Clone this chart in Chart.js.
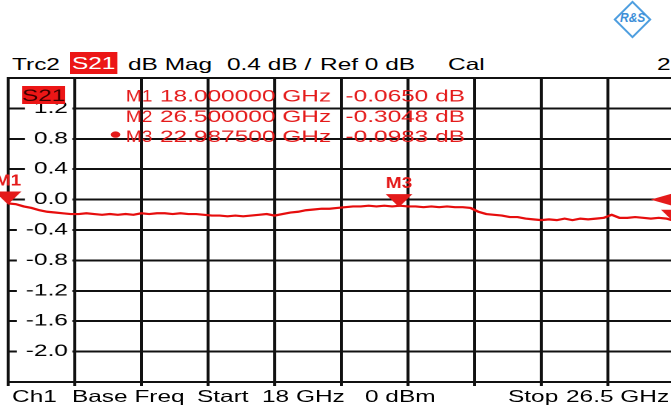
<!DOCTYPE html>
<html lang="en">
<head>
<meta charset="UTF-8">
<title>Trc2 S21 dB Mag</title>
<script src="https://cdn.jsdelivr.net/npm/chart.js"></script>
<style>
  html, body { margin: 0; padding: 0; background: #fff; }
  body {
    width: 671px;
    height: 408px;
    overflow: hidden;
    position: relative;
    font-family: "Liberation Sans", Arial, sans-serif;
  }
  #trace { position: absolute; left: 0; top: 0; }
  .lbl {
    position: absolute;
    font-size: 16.5px;
    line-height: 20px;
    white-space: pre;
    color: #000;
    transform: scaleX(1.48);
    transform-origin: 0 0;
  }
  .tag {
    background: #ec1616;
    color: #fff;
    text-align: center;
    width: 32px;
    height: 22px;
    line-height: 22px;
  }
  .diamond {
    position: absolute;
    left: 619px;
    top: 6px;
    width: 23px;
    height: 23px;
    border: 2px solid #4f9fe0;
    transform: rotate(45deg);
  }
  .rs {
    position: absolute;
    left: 620px;
    top: 11px;
    width: 25px;
    text-align: center;
    font: italic bold 12px "Liberation Sans", Arial, sans-serif;
    color: #3d8fd8;
  }
</style>
</head>
<body>
  <div class="diamond"></div>
  <div class="rs">R&amp;S</div>

  <!-- header line -->
  <span class="lbl" style="left:12px; top:54px">Trc2</span>
  <span class="lbl tag" style="left:70px; top:52px">S21</span>
  <span class="lbl" style="left:128px; top:54px">dB Mag</span>
  <span class="lbl" style="left:227px; top:54px">0.4 dB /</span>
  <span class="lbl" style="left:320px; top:54px">Ref 0 dB</span>
  <span class="lbl" style="left:448px; top:54px">Cal</span>
  <span class="lbl" style="left:657px; top:54px">2</span>

  <canvas id="trace" width="470" height="408"></canvas>

  <!-- footer line -->
  <span class="lbl" style="left:12px; top:386px">Ch1</span>
  <span class="lbl" style="left:72px; top:386px">Base Freq</span>
  <span class="lbl" style="left:197px; top:386px">Start</span>
  <span class="lbl" style="left:262px; top:386px">18 GHz</span>
  <span class="lbl" style="left:365px; top:386px">0 dBm</span>
  <span class="lbl" style="left:508px; top:386px">Stop</span>
  <span class="lbl" style="left:566px; top:386px">26.5 GHz</span>

<script>
  // sweep
  const startGHz = 18;
  const stopGHz = 26.5;

  // S21 trace
  const freqGHz = [
    18.0, 18.1, 18.2, 18.3, 18.4, 18.5, 18.6, 18.7, 18.8, 18.9,
    19.0, 19.1, 19.2, 19.3, 19.4, 19.5, 19.6, 19.7, 19.8, 19.9,
    20.0, 20.1, 20.2, 20.3, 20.4, 20.5, 20.6, 20.7, 20.8, 20.9,
    21.0, 21.1, 21.2, 21.3, 21.4, 21.5, 21.6, 21.7, 21.8, 21.9,
    22.0, 22.1, 22.2, 22.3, 22.4, 22.5, 22.6, 22.7, 22.8, 22.9,
    23.0, 23.1, 23.2, 23.3, 23.4, 23.5, 23.6, 23.7, 23.8, 23.9,
    24.0, 24.1, 24.2, 24.3, 24.4, 24.5, 24.6, 24.7, 24.8, 24.9,
    25.0, 25.1, 25.2, 25.3, 25.4, 25.5, 25.6, 25.7, 25.8, 25.9,
    26.0, 26.1, 26.2, 26.3, 26.4, 26.5
  ];
  const s21dB = [
    -0.05, -0.06, -0.09, -0.11, -0.14, -0.16, -0.17, -0.18, -0.19, -0.19,
    -0.18, -0.19, -0.20, -0.19, -0.20, -0.19, -0.20, -0.18, -0.19, -0.18,
    -0.18, -0.19, -0.18, -0.19, -0.19, -0.20, -0.21, -0.21, -0.22, -0.21,
    -0.22, -0.21, -0.20, -0.19, -0.21, -0.19, -0.17, -0.16, -0.14, -0.13,
    -0.12, -0.12, -0.11, -0.10, -0.09, -0.09, -0.08, -0.09, -0.08, -0.09,
    -0.08, -0.09, -0.09, -0.10, -0.09, -0.10, -0.09, -0.10, -0.10, -0.11,
    -0.16, -0.19, -0.20, -0.21, -0.23, -0.23, -0.25, -0.26, -0.27, -0.26,
    -0.27, -0.25, -0.27, -0.25, -0.26, -0.25, -0.24, -0.20, -0.24, -0.24,
    -0.23, -0.24, -0.25, -0.24, -0.25, -0.28
  ];

  // markers
  const markerNames = ['M1', 'M2', 'M3'];
  const markerFreqs = [18.0, 26.5, 22.9875];
  const markerValues = [-0.0650, -0.3048, -0.0983];
  const activeMarker = 2;

  // y scale: 0.4 dB/div, ref 0 dB at 6th division from the bottom
  const refLevel = 0;
  const dbPerDiv = 0.4;
  const divisions = 10;
  const refPosition = 6;
  const tickLabels = ['1.2', '0.8', '0.4', '0.0', '-0.4', '-0.8', '-1.2', '-1.6', '-2.0'];

  const RED = '#e41a1a';
  const GRID = '#111';
  const FONT = '"Liberation Sans", Arial, sans-serif';
  const STRETCH = 1.48; // the screen is wider than it is tall

  function tickText(v) {
    const t = (Math.round(v * 10) / 10).toFixed(1);
    return tickLabels.includes(t) ? t : '';
  }

  // narrow text (marker names are condensed on the analyser screen)
  function narrowText(ctx, text, x, y, sx) {
    ctx.save();
    ctx.translate(x, y);
    ctx.scale(sx, 1);
    ctx.fillText(text, 0, 0);
    ctx.restore();
  }

  const markerPlugin = {
    id: 'vnaMarkers',
    afterDatasetsDraw(chart) {
      const { ctx, chartArea } = chart;
      const x = chart.scales.x;
      const y = chart.scales.y;
      ctx.save();
      ctx.fillStyle = RED;

      // marker triangles + names
      markerNames.forEach((name, i) => {
        const px = x.getPixelForValue(markerFreqs[i]);
        const py = y.getPixelForValue(markerValues[i]);
        ctx.beginPath();
        ctx.moveTo(px - 9, py - 13);
        ctx.lineTo(px + 9, py - 13);
        ctx.lineTo(px, py);
        ctx.closePath();
        ctx.fill();
        if (px < chartArea.right - 1) {
          ctx.font = 'bold 16px ' + FONT;
          ctx.textAlign = 'center';
          ctx.textBaseline = 'alphabetic';
          narrowText(ctx, name, px, py - 19, 0.8);
        }
      });

      // reference level arrow on the right edge
      const ry = y.getPixelForValue(refLevel);
      ctx.beginPath();
      ctx.moveTo(chartArea.right - 16, ry);
      ctx.lineTo(chartArea.right + 3, ry - 8);
      ctx.lineTo(chartArea.right + 3, ry + 8);
      ctx.closePath();
      ctx.fill();
      ctx.restore();
    },
    afterDraw(chart) {
      const { ctx } = chart;
      ctx.save();

      // trace label box
      ctx.fillStyle = '#ec1616';
      ctx.fillRect(15, 86, 29, 18);
      ctx.fillStyle = '#3a0000';
      ctx.font = '16.5px ' + FONT;
      ctx.textAlign = 'center';
      ctx.textBaseline = 'alphabetic';
      ctx.fillText('S21', 29.5, 101);

      // marker readout
      ctx.fillStyle = RED;
      markerNames.forEach((name, i) => {
        const by = 101.5 + i * 20.3;
        ctx.textAlign = 'left';
        narrowText(ctx, name, 85, by, 0.78);
        ctx.fillText(markerFreqs[i].toFixed(6) + ' GHz', 108, by);
        ctx.textAlign = 'right';
        ctx.fillText(markerValues[i].toFixed(4) + ' dB', 314, by);
        if (i === activeMarker) {
          ctx.beginPath();
          ctx.arc(78, by - 7.5, 3.2, 0, Math.PI * 2);
          ctx.fill();
        }
      });
      ctx.restore();
    }
  };

  const canvas = document.getElementById('trace');
  canvas.style.width = (canvas.width * STRETCH) + 'px';
  canvas.style.height = canvas.height + 'px';

  new Chart(canvas, {
    type: 'line',
    data: {
      datasets: [{
        label: 'S21',
        data: freqGHz.map((f, i) => ({ x: f, y: s21dB[i] })),
        borderColor: '#e60d0d',
        borderWidth: 2.2,
        pointRadius: 0,
        tension: 0
      }]
    },
    options: {
      responsive: false,
      devicePixelRatio: 2,
      animation: false,
      events: [],
      layout: { padding: { left: 5.4, right: 14.6, top: 78, bottom: 22 } },
      plugins: {
        legend: { display: false },
        tooltip: { enabled: false }
      },
      scales: {
        x: {
          type: 'linear',
          min: startGHz,
          max: stopGHz,
          ticks: { display: false, stepSize: (stopGHz - startGHz) / divisions, maxTicksLimit: 20 },
          grid: { color: GRID, lineWidth: 2, drawTicks: true, tickLength: 4 },
          border: { color: GRID, width: 2 }
        },
        y: {
          min: refLevel - refPosition * dbPerDiv,
          max: refLevel + (divisions - refPosition) * dbPerDiv,
          afterFit: (scale) => { scale.width = 0; },
          ticks: {
            stepSize: dbPerDiv,
            maxTicksLimit: 20,
            mirror: true,
            crossAlign: 'far',
            padding: 12,
            color: '#000',
            font: { family: FONT, size: 16.5 },
            showLabelBackdrop: true,
            backdropColor: (c) => tickText(c.tick.value) ? '#fff' : 'rgba(0,0,0,0)',
            backdropPadding: { left: 6, right: 3, top: 0, bottom: 0 },
            callback: (v) => tickText(v)
          },
          grid: { color: GRID, lineWidth: 2, drawTicks: false },
          border: { color: GRID, width: 2 }
        }
      }
    },
    plugins: [markerPlugin]
  });
</script>
</body>
</html>
